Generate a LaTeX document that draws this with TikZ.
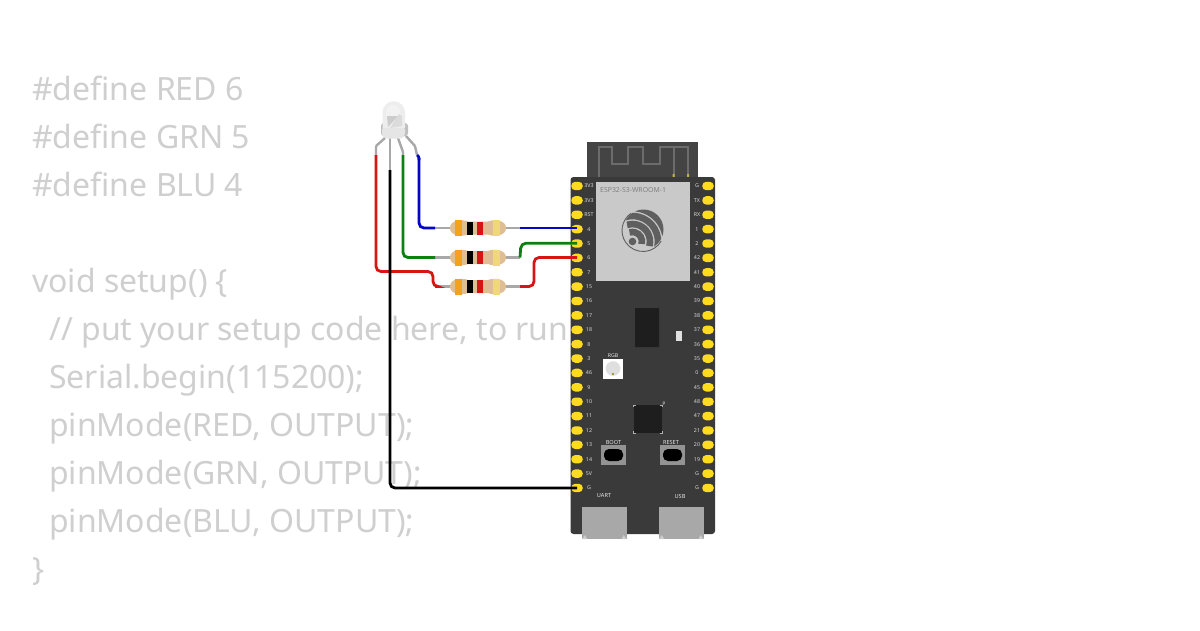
\documentclass[tikz,border=0pt]{standalone}
\usepackage{fontspec}
\setmainfont{Noto Sans}
\definecolor{codegray}{HTML}{CFCFCF}
\definecolor{boardc}{HTML}{3A3A3A}
\definecolor{padc}{HTML}{FFDB1F}
\definecolor{modc}{HTML}{C9C9C9}
\definecolor{leadc}{HTML}{A8A8A8}
\definecolor{wred}{HTML}{D81515}
\definecolor{wgreen}{HTML}{0A8212}
\definecolor{wblue}{HTML}{0505C8}
\definecolor{rtan}{HTML}{DFBE93}
\definecolor{rorange}{HTML}{F5A11C}
\definecolor{ryellow}{HTML}{F0D777}
\definecolor{logoc}{HTML}{5F5F5F}
\definecolor{chipc}{HTML}{1E1E1E}
\tikzset{
 codeline/.style={anchor=base west,inner sep=0,text=codegray,font=\fontsize{32}{32}\selectfont},
 pad/.style={fill=padc,draw=none,rounded corners=4pt,minimum width=11.5pt,minimum height=8.4pt,inner sep=0},
 pinlabel/.style={text=white!85!black,font=\fontsize{5.3}{6}\selectfont\bfseries,inner sep=0},
 silk/.style={text=white!90!black,font=\fontsize{5.6}{6}\selectfont,inner sep=0},
 wirec/.style={draw=#1,line width=2.8pt,rounded corners=5pt},
 lead/.style={draw=leadc,line width=2.4pt},
}
\newcommand{\resistor}[2]{% name, y
 \coordinate (#1L) at (435,#2);
 \coordinate (#1R) at (520,#2);
 \draw[lead] (#1L) -- (#1R);
 \fill[rtan] (450,#2) .. controls (450,#2-8) and (462,#2-9) .. (468,#2-6.5) -- (488,#2-6.5) .. controls (494,#2-9) and (506,#2-8) .. (506,#2) .. controls (506,#2+8) and (494,#2+9) .. (488,#2+6.5) -- (468,#2+6.5) .. controls (462,#2+9) and (450,#2+8) .. (450,#2) -- cycle;
 \fill[rorange] (455,#2-8) rectangle (462,#2+8);
 \fill[black] (467,#2-6.5) rectangle (473,#2+6.5);
 \fill[wred] (477,#2-6.5) rectangle (483,#2+6.5);
 \fill[ryellow] (493,#2-8) rectangle (500,#2+8);
}
\begin{document}
\begin{tikzpicture}[x=1pt,y=-1pt]
\useasboundingbox (0,0) rectangle (1200,630);
\fill[white] (0,0) rectangle (1200,630);
% code
\node[codeline] (c1) at (32,100) {\#define RED 6};
\node[codeline] (c2) at (32,148) {\#define GRN 5};
\node[codeline] (c3) at (32,196) {\#define BLU 4};
\node[codeline] (c4) at (32,292) {void setup() \{};
\node[codeline] (c5) at (49,340) {// put your setup code here, to run};
\node[codeline] (c6) at (49,388) {Serial.begin(115200);};
\node[codeline] (c7) at (49,436) {pinMode(RED, OUTPUT);};
\node[codeline] (c8) at (49,484) {pinMode(GRN, OUTPUT);};
\node[codeline] (c9) at (49,532) {pinMode(BLU, OUTPUT);};
\node[codeline] (c10) at (32,580) {\}};
% board
\fill[boardc!95!white] (587,142) rectangle (698,179);
\draw[gray!85!black,line width=2pt] (598.5,177) -- (598.5,147) -- (611.5,147) -- (611.5,163.5) -- (628,163.5) -- (628,147) -- (643,147) -- (643,163.5) -- (659.5,163.5) -- (659.5,147) -- (688,147) -- (688,177);
\draw[gray!85!black,line width=2pt] (673.5,147) -- (673.5,177);
\fill[yellow!70!black] (672.5,174) rectangle (674.5,177) (687,174) rectangle (689,177);
\fill[boardc,rounded corners=3pt] (570.5,177) rectangle (715,534);
% usb connectors
\foreach \n/\x in {uart/582,usb/659}{
 \fill[leadc] (\x,507) rectangle (\x+44.5,539);
 \fill[gray!40] (\x,539) -- (\x+3,535) -- (\x+5,539) -- cycle (\x+44.5,539) -- (\x+41.5,535) -- (\x+39.5,539) -- cycle;
}
% module
\fill[modc] (596,182) rectangle (690,281);
\node[anchor=west,inner sep=0,text=gray,font=\fontsize{6.9}{8}\selectfont] (modlabel) at (600,190.5) {ESP32-S3-WROOM-1};
% logo
\draw[logoc,line width=.9pt] (643,230.5) ++(-125:21) arc[start angle=-125,end angle=-330,radius=21];
\begin{scope}
 \clip (643.5,229.5) circle[radius=20];
 \fill[logoc] (632.5,241.5) circle[radius=3.8];
 \foreach \r in {9.5,17.5,25.5,33.5}
  \draw[logoc,line width=6.6pt] (632.5,241.5) ++(15:\r) arc[start angle=15,end angle=-108,radius=\r];
\end{scope}
% chips
\fill[chipc,rounded corners=.7pt] (635,308) rectangle (659,347);
\fill[white!88!black] (676,331) rectangle (682,341);
\node[silk,font=\fontsize{5.2}{6}\selectfont] (rgbt) at (613,356) {RGB};
\fill[white] (603,359) rectangle (623,379);
\fill[gray!25] (613,368.5) circle[radius=7.3];
\fill[olive] (613,374) circle[radius=1.2];
\fill[chipc] (633.5,405) rectangle (662,433);
\draw[gray!60,line width=.5pt] (633.5,407) -- (633.5,405) -- (636,405) (659.5,405) -- (662,405) -- (662,407) (633.5,431) -- (633.5,433) -- (636,433) (659.5,433) -- (662,433) -- (662,431);
\node[silk,font=\fontsize{4.5}{5}\selectfont] (ptext) at (664,404) {p};
% buttons
\node[silk] (boott) at (613.5,442) {BOOT};
\node[silk] (resett) at (671,442) {RESET};
\foreach \x in {601,660}{
 \fill[gray!85!white] (\x,445) rectangle (\x+25,465);
 \fill[black,rounded corners=5pt] (\x+3,449) rectangle (\x+22,461);
}
\node[silk] (uartt) at (604,496) {UART};
\node[silk] (usbt) at (680,496) {USB};
% pins
\foreach \i/\lab/\nm in {0/3V3/a,1/3V3/b,2/RST/rst,3/4/p4,4/5/p5,5/6/p6,6/7/p7,7/15/p15,8/16/p16,9/17/p17,10/18/p18,11/8/p8,12/3/p3,13/46/p46,14/9/p9,15/10/p10,16/11/p11,17/12/p12,18/13/p13,19/14/p14,20/5V/v5,21/G/gnd}{
 \node[pad] (L\nm) at (577,186+14.38*\i) {};
 \node[pinlabel] (Lt\nm) at (589,186+14.38*\i) {\lab};
}
\foreach \i/\lab/\nm in {0/G/a,1/TX/b,2/RX/c,3/1/d,4/2/e,5/42/f,6/41/g,7/40/h,8/39/i,9/38/j,10/37/k,11/36/l,12/35/m,13/0/n,14/45/o,15/48/p,16/47/q,17/21/r,18/20/s,19/19/t,20/G/u,21/G/v}{
 \node[pad] (R\nm) at (708,186+14.38*\i) {};
 \node[pinlabel] (Rt\nm) at (697,186+14.38*\i) {\lab};
}
% resistors
\resistor{ra}{228}
\resistor{rb}{257.5}
\resistor{rc}{286.5}
% LED
\coordinate (l1) at (376,155);
\coordinate (l2) at (390,170);
\coordinate (l3) at (403,155);
\coordinate (l4) at (417,155);
\draw[lead,rounded corners=1pt] (385,138) -- (376,146) -- (l1);
\draw[lead] (390,138) -- (l2);
\draw[lead,rounded corners=1pt] (398,138) -- (403,152) -- (l3);
\draw[lead,rounded corners=1pt] (406,136) -- (415,146) -- (l4);
\fill[gray!50,rounded corners=3pt] (381,123) rectangle (408,136);
\fill[gray!20,rounded corners=5pt] (382,125) rectangle (405,138.5);
\fill[gray!14] (382.5,128) -- (382.5,112.5) arc[start angle=180,end angle=360,radius=11.25] -- (405,128) -- cycle;
\fill[white,opacity=.3] (386,112) arc[start angle=180,end angle=360,radius=7] -- (400,118) -- (386,118) -- cycle;
\fill[gray!40] (387,116) -- (398,116) -- (388,127) -- cycle;
\fill[gray!28] (399,114) -- (402,116) -- (402,126) -- (390,128) -- cycle;
% wires
\draw[wirec=wred] (l1) -- (376,271.5) -- (433,271.5) -- (433,286.5) -- (rcL);
\draw[wirec=wred] (rcR) -- (534,286.5) -- (534,257.5) -- (Lp6.center |- 0,257.5);
\draw[wirec=wgreen] (l3) -- (403,257.5) -- (rbL);
\draw[wirec=wgreen] (rbR) -- (521,243.2) -- (Lp5.center |- 0,243.2);
\draw[wirec=wblue,rounded corners=1pt] (l4) -- (419,157) -- (419,160);
\draw[wirec=wblue] (419,158) -- (419,228) -- (raL);
\draw[wirec=wblue] (raR) -- (raR -| Lp4.center);
\draw[wirec=black] (l2) |- (Lgnd.center);
\end{tikzpicture}
\end{document}
